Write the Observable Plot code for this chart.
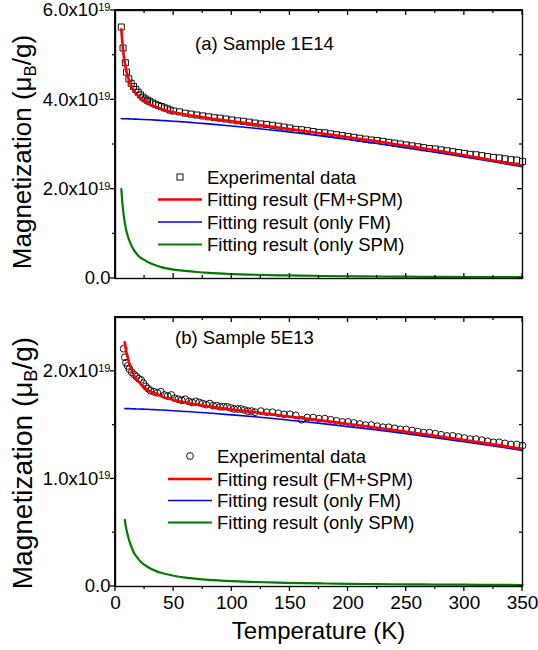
<!DOCTYPE html>
<html><head><meta charset="utf-8">
<script src="https://cdn.jsdelivr.net/npm/d3@7"></script>
<script src="https://cdn.jsdelivr.net/npm/@observablehq/plot@0.6"></script>
<style>body{margin:0;background:#fff}#chart svg{display:block}.wrap{position:relative;width:538px}.box{position:absolute;box-sizing:border-box;border:1.4px solid #0a0a0a;pointer-events:none}</style>
</head><body><div id="chart"></div>
<script>
const FONT = "'Liberation Sans', Arial, sans-serif";
const UNIT = 1e19;

// ---------- shared axes ----------
const xTicks = [0, 50, 100, 150, 200, 250, 300, 350];
const xMinor = [25, 75, 125, 175, 225, 275, 325];
const xLabel = "Temperature (K)";
const yLabelMain = "Magnetization (μ";
const yLabelSub = "B";
const yLabelEnd = "/g)";
const legendLabels = ["Experimental data", "Fitting result (FM+SPM)", "Fitting result (only FM)", "Fitting result (only SPM)"];

// ---------- panel (a) Sample 1E14 (values in 1e19 μB/g) ----------
const aTitle = "(a) Sample 1E14";
const aYTicks = [0, 2, 4, 6];
const aYMinor = [1, 3, 5];
const aExpT = [5, 6.5, 8.5, 9.5, 11.5, 13.5, 15.5, 17.5, 19.5, 21.5, 23.5, 25.5, 27.5, 29.5, 32, 34.5, 37, 39.5, 42, 44.5, 47,
  50, 55, 60, 65, 70, 75, 80, 85, 90, 95, 100, 105, 110, 115, 120, 125, 130, 135, 140, 145, 150, 155, 160, 165, 170, 175,
  180, 185, 190, 195, 200, 205, 210, 215, 220, 225, 230, 235, 240, 245, 250, 255, 260, 265, 270, 275, 280, 285, 290, 295,
  300, 305, 310, 315, 320, 325, 330, 335, 340, 345, 350];
const aExpM = [5.63, 5.16, 4.83, 4.62, 4.47, 4.37, 4.30, 4.23, 4.17, 4.11, 4.06, 4.02, 3.99, 3.96, 3.93, 3.90, 3.87, 3.85, 3.82, 3.80, 3.77,
  3.75, 3.73, 3.70, 3.68, 3.66, 3.64, 3.62, 3.60, 3.59, 3.57, 3.55, 3.53, 3.52, 3.50, 3.48, 3.46, 3.45, 3.43, 3.41, 3.39, 3.37, 3.34, 3.33, 3.31, 3.29, 3.27,
  3.26, 3.24, 3.22, 3.20, 3.18, 3.16, 3.14, 3.12, 3.10, 3.09, 3.07, 3.05, 3.03, 3.01, 2.99, 2.97, 2.95, 2.93, 2.91, 2.90, 2.88, 2.86, 2.84, 2.82,
  2.80, 2.78, 2.77, 2.75, 2.73, 2.71, 2.70, 2.68, 2.66, 2.65, 2.62];
const aFitT = [5, 6, 7, 8, 9, 10, 12, 14, 16, 18, 20, 25, 30, 35, 40, 50, 60, 70, 80, 100, 120, 140, 160, 180, 200, 225, 250, 275, 300, 325, 350];
const aFitTotal = [5.58, 5.25, 5.01, 4.83, 4.69, 4.58, 4.41, 4.29, 4.20, 4.13, 4.07, 3.97, 3.89, 3.84, 3.79, 3.72, 3.67, 3.63, 3.59, 3.52, 3.45, 3.38, 3.31, 3.24, 3.16, 3.07, 2.97, 2.87, 2.76, 2.64, 2.53];
const aFitFM = [3.578, 3.578, 3.577, 3.576, 3.576, 3.575, 3.573, 3.571, 3.569, 3.567, 3.565, 3.559, 3.553, 3.546, 3.538, 3.522, 3.503, 3.483, 3.462, 3.415, 3.363, 3.307, 3.246, 3.182, 3.113, 3.023, 2.928, 2.828, 2.722, 2.613, 2.500];
const aFitSPM = [2.00, 1.67, 1.43, 1.25, 1.11, 1.00, 0.84, 0.72, 0.63, 0.56, 0.50, 0.41, 0.34, 0.29, 0.25, 0.20, 0.17, 0.145, 0.125, 0.10, 0.084, 0.072, 0.063, 0.056, 0.050, 0.045, 0.040, 0.037, 0.034, 0.031, 0.029];

// ---------- panel (b) Sample 5E13 ----------
const bTitle = "(b) Sample 5E13";
const bYTicks = [0, 1, 2];
const bYMinor = [0.5, 1.5];
const bExpT = [7, 8, 9, 10.5, 12, 14, 16, 18, 20, 22, 24, 26, 28, 30, 33, 36, 39, 42, 45, 48, 51, 54, 57, 60, 63, 66, 69, 72, 75, 78,
  81, 84, 87, 90, 93, 96, 99, 102, 105, 108, 111, 114, 117, 120,
  125, 130, 135, 140, 145, 150, 155, 160, 165, 170, 175, 180, 185, 190, 195, 200, 205, 210, 215, 220, 225, 230, 235, 240,
  245, 250, 255, 260, 265, 270, 275, 280, 285, 290, 295, 300, 305, 310, 315, 320, 325, 330, 335, 340, 345, 350];
const bExpM = [2.21, 2.13, 2.08, 2.05, 2.02, 1.99, 1.97, 1.95, 1.93, 1.92, 1.89, 1.86, 1.84, 1.82, 1.81, 1.80, 1.81, 1.78, 1.77, 1.78, 1.75, 1.74, 1.73, 1.74, 1.72, 1.71, 1.72, 1.71, 1.70, 1.69,
  1.70, 1.68, 1.68, 1.67, 1.67, 1.67, 1.66, 1.65, 1.65, 1.65, 1.64, 1.63, 1.63, 1.62,
  1.63, 1.62, 1.62, 1.61, 1.60, 1.60, 1.59, 1.55, 1.57, 1.57, 1.56, 1.56, 1.55, 1.54, 1.53, 1.53, 1.52, 1.51, 1.50, 1.50, 1.49, 1.48, 1.48, 1.47,
  1.46, 1.46, 1.45, 1.44, 1.43, 1.43, 1.42, 1.41, 1.40, 1.40, 1.39, 1.38, 1.37, 1.37, 1.36, 1.35, 1.34, 1.34, 1.33, 1.32, 1.32, 1.31];
const bFitT = [8, 9, 10, 12, 14, 16, 18, 20, 25, 30, 35, 40, 50, 60, 70, 80, 100, 120, 140, 160, 180, 200, 225, 250, 275, 300, 325, 350];
const bFitTotal = [2.27, 2.20, 2.15, 2.07, 2.01, 1.96, 1.93, 1.90, 1.85, 1.81, 1.79, 1.765, 1.734, 1.71, 1.69, 1.674, 1.645, 1.619, 1.592, 1.565, 1.539, 1.511, 1.476, 1.439, 1.401, 1.362, 1.321, 1.279];
const bFitFM = [1.654, 1.654, 1.653, 1.653, 1.652, 1.651, 1.650, 1.650, 1.648, 1.645, 1.643, 1.640, 1.634, 1.627, 1.620, 1.612, 1.595, 1.577, 1.556, 1.534, 1.511, 1.486, 1.454, 1.419, 1.383, 1.345, 1.306, 1.265];
const bFitSPM = [0.62, 0.55, 0.50, 0.42, 0.36, 0.31, 0.28, 0.25, 0.20, 0.167, 0.143, 0.125, 0.10, 0.083, 0.071, 0.062, 0.050, 0.042, 0.036, 0.031, 0.028, 0.025, 0.022, 0.020, 0.018, 0.017, 0.015, 0.014];

const COLORS = {exp: "#111", total: "#ff0000", fm: "#0000ff", spm: "#007a00", axis: "#0a0a0a"};
const NS = "http://www.w3.org/2000/svg";
const fmt = d => d === 0 ? "0.0" : (d / UNIT).toFixed(1) + "x10^19";

function panel(cfg) {
  const exp = cfg.expT.map((t, i) => ({T: t, M: cfg.expM[i] * UNIT}));
  const fit = cfg.fitT.map((t, i) => ({T: t, total: cfg.total[i] * UNIT, fm: cfg.fm[i] * UNIT, spm: cfg.spm[i] * UNIT}));
  const yT = cfg.yTicks.map(v => v * UNIT), yM = cfg.yMinor.map(v => v * UNIT);
  const yMaxV = cfg.yMax * UNIT;
  const marks = [
    Plot.dot(exp, {x: "T", y: "M", symbol: cfg.symbol, r: cfg.r, stroke: COLORS.exp, strokeWidth: 1, fill: "none"}),
    Plot.line(fit, {x: "T", y: "fm", stroke: COLORS.fm, strokeWidth: 1.6, curve: "monotone-x"}),
    Plot.line(fit, {x: "T", y: "spm", stroke: COLORS.spm, strokeWidth: 2.2, curve: "monotone-x"}),
    Plot.line(fit, {x: "T", y: "total", stroke: COLORS.total, strokeWidth: 2.6, curve: "monotone-x"}),
    Plot.frame({stroke: COLORS.axis, strokeWidth: 1.4}),
    Plot.axisY({ticks: yT, tickSize: 0, tickPadding: 5, tickFormat: fmt, label: null, fontSize: 18.5})
  ];
  if (cfg.xLabels) marks.push(Plot.axisX({ticks: xTicks, tickSize: 0, tickPadding: 9, tickFormat: d => String(d), label: null, fontSize: 19}));
  const svg = Plot.plot({
    width: 538, height: cfg.height,
    marginLeft: 115, marginRight: 16, marginTop: cfg.mt, marginBottom: cfg.mb,
    style: {fontFamily: FONT, fontSize: "18px", color: "#000", background: "#fff"},
    x: {domain: [0, 350], axis: cfg.xLabels ? undefined : null},
    y: {domain: [0, yMaxV]},
    marks
  });
  // superscript exponents in y tick labels
  svg.querySelectorAll('[aria-label="y-axis tick label"] text').forEach(t => {
    const m = t.textContent.match(/^(.*)\^(\d+)$/);
    if (!m) return;
    t.textContent = "";
    const a = document.createElementNS(NS, "tspan"); a.textContent = m[1]; t.appendChild(a);
    const b = document.createElementNS(NS, "tspan"); b.textContent = m[2];
    b.setAttribute("dy", "-0.5em"); b.setAttribute("font-size", "11"); t.appendChild(b);
  });
  // tick marks as filled bars, placed with the plot's own scales
  const sx = svg.scale("x"), sy = svg.scale("y");
  const X = v => sx.apply(v), Y = v => sy.apply(v);
  const L0 = X(0), R0 = X(350), B0 = Y(0), T0 = Y(yMaxV);
  const ax = d3.select(svg).append("g").attr("aria-label", "ticks");
  const bar = (x, y, w, h) => ax.append("rect").attr("x", Math.min(x, x + w)).attr("y", Math.min(y, y + h))
    .attr("width", Math.abs(w)).attr("height", Math.abs(h)).attr("fill", COLORS.axis).attr("stroke", "none");
  const tw = 1.3;
  yT.forEach(v => { bar(L0, Y(v) - tw / 2, -5, tw); bar(R0, Y(v) - tw / 2, -5, tw); });
  yM.forEach(v => { bar(L0, Y(v) - tw / 2, -3, tw); bar(R0, Y(v) - tw / 2, -3, tw); });
  const bs = cfg.xLabels ? 1 : -1; // bottom ticks outward on the lower panel, inward on the upper
  xTicks.forEach(v => { bar(X(v) - tw / 2, T0, tw, 5); bar(X(v) - tw / 2, B0, tw, 5 * bs); });
  xMinor.forEach(v => { bar(X(v) - tw / 2, T0, tw, 3); bar(X(v) - tw / 2, B0, tw, 3 * bs); });

  const g = d3.select(svg).append("g").attr("font-family", FONT).attr("fill", "#000").attr("text-anchor", "start");
  // y label
  const yl = g.append("text").attr("transform", `translate(${cfg.ylX},${cfg.ylCenter}) rotate(-90)`)
    .attr("text-anchor", "middle").attr("font-size", cfg.ylSize);
  yl.append("tspan").text(yLabelMain);
  yl.append("tspan").text(yLabelSub).attr("font-size", cfg.ylSize * 0.65).attr("dy", 5);
  yl.append("tspan").text(yLabelEnd).attr("dy", -5);
  // panel title
  g.append("text").attr("x", cfg.titleX).attr("y", cfg.titleY).attr("font-size", 18.5).text(cfg.title);
  // legend
  const L = cfg.legend;
  legendLabels.forEach((lab, i) => {
    const y = L.rows[i];
    g.append("text").attr("x", L.textX).attr("y", y).attr("dy", "0.36em").attr("font-size", 18.5).text(lab);
    if (i === 0) {
      if (cfg.symbol === "square") {
        g.append("rect").attr("x", L.symX - 3).attr("y", y - 3).attr("width", 6).attr("height", 6)
          .attr("fill", "none").attr("stroke", COLORS.exp).attr("stroke-width", 1);
      } else {
        g.append("circle").attr("cx", L.symX).attr("cy", y).attr("r", cfg.r)
          .attr("fill", "none").attr("stroke", COLORS.exp).attr("stroke-width", 1);
      }
    } else {
      const c = [null, COLORS.total, COLORS.fm, COLORS.spm][i];
      const w = [0, 2.6, 1.6, 2.2][i];
      g.append("line").attr("x1", L.lineX1).attr("x2", L.lineX2).attr("y1", y).attr("y2", y)
        .attr("stroke", c).attr("stroke-width", w);
    }
  });
  if (cfg.xLabels) {
    g.append("text").attr("x", (L0 + R0) / 2).attr("y", cfg.xlY).attr("text-anchor", "middle").attr("font-size", 24).text(xLabel);
  }
  // wrapper with an HTML frame box aligned on the plot area
  const wrap = document.createElement("div");
  wrap.className = "wrap";
  wrap.appendChild(svg);
  const box = document.createElement("div");
  box.className = "box";
  box.style.left = (L0 - 0.7) + "px";
  box.style.top = (T0 - 0.7) + "px";
  box.style.width = (R0 - L0 + 1.4) + "px";
  box.style.height = (B0 - T0 + 1.4) + "px";
  wrap.appendChild(box);
  return wrap;
}

const chart = document.getElementById("chart");
chart.appendChild(panel({
  height: 295, mt: 10, mb: 17, yMax: 6, yTicks: aYTicks, yMinor: aYMinor,
  expT: aExpT, expM: aExpM, symbol: "square", r: 3.4,
  fitT: aFitT, total: aFitTotal, fm: aFitFM, spm: aFitSPM,
  xLabels: false, title: aTitle, titleX: 195, titleY: 50,
  ylX: 31, ylCenter: 152, ylSize: 26,
  legend: {rows: [177, 199.5, 222, 244.5], symX: 180, lineX1: 158, lineX2: 202, textX: 207}
}));
chart.appendChild(panel({
  height: 355, mt: 22, mb: 64, yMax: 2.5, yTicks: bYTicks, yMinor: bYMinor,
  expT: bExpT, expM: bExpM, symbol: "circle", r: 3.4,
  fitT: bFitT, total: bFitTotal, fm: bFitFM, spm: bFitSPM,
  xLabels: true, title: bTitle, titleX: 175, titleY: 48.5, xlY: 343.5,
  ylX: 32, ylCenter: 168, ylSize: 28,
  legend: {rows: [161, 184, 205.5, 227.5], symX: 190, lineX1: 168, lineX2: 212, textX: 217}
}));
</script>
</body></html>
